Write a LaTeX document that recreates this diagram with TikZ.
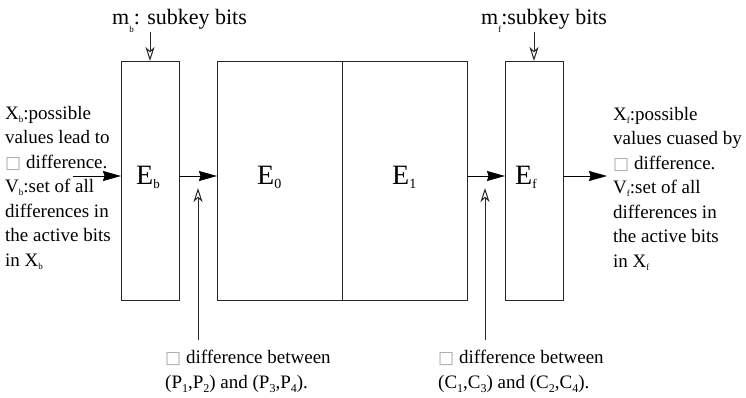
\documentclass[tikz,border=0pt]{standalone}
\usepackage{fontspec}
\setmainfont{Liberation Serif}
\newfontfamily\dejavu{DejaVu Sans}
\usetikzlibrary{arrows.meta}
\newcommand\lsub[3]{\raisebox{-#1}{\fontsize{#2}{#2}\selectfont #3}}
\newcommand\missing{{\dejavu\fontsize{17}{17}\selectfont\textcolor{black!35}{□}}}
\begin{document}
\begin{tikzpicture}[x=1pt,y=-1pt,
  blk/.style={draw=black!85,line width=0.9pt,inner sep=0pt,outer sep=0pt,minimum height=239pt},
  txt/.style={inner sep=0pt,align=left,anchor=north west,font=\fontsize{19}{24.5}\selectfont},
  toptxt/.style={inner sep=0pt,anchor=base west,font=\fontsize{22}{26}\selectfont},
  elabel/.style={inner sep=0pt,anchor=base west,font=\fontsize{28}{30}\selectfont},
  fa/.style={line width=0.9pt,-{Stealth[length=18pt,width=10pt,inset=1.5pt]}},
  ha/.style={line width=1pt,black!85,-{Stealth[open,length=14pt,width=9pt,inset=4pt]}}]
\useasboundingbox (0,0) rectangle (746,398);
% boxes
\node[blk,minimum width=58pt] (Eb) at (150,180.5) {};
\node[blk,minimum width=125pt] (E0) at (279.5,180.5) {};
\node[blk,minimum width=125pt] (E1) at (404.5,180.5) {};
\node[blk,minimum width=58pt] (Ef) at (534,180.5) {};
% labels in boxes
\node[elabel] (lb) at (136,185) {E\lsub{3pt}{13}{b}};
\node[elabel] (l0) at (257,185) {E\lsub{3pt}{14}{0}};
\node[elabel] (l1) at (392,185) {E\lsub{3pt}{14}{1}};
\node[elabel] (lf) at (515,185) {E\lsub{3pt}{13}{f}};
% top texts
\node[toptxt] (mb) at (112,25) {m\lsub{8pt}{9}{b}: subkey bits};
\node[toptxt] (mf) at (481,25) {m\lsub{8pt}{9}{f}:subkey bits};
% side texts
\node[txt] (xb) at (5,106) {X\lsub{3pt}{9}{b}:possible\\values lead to\\\missing\ difference.\\V\lsub{3pt}{9}{b}:set of all\\differences in\\the active bits\\in X\lsub{3pt}{9}{b}};
\node[txt] (xf) at (613,107) {X\lsub{3pt}{9}{f}:possible\\values cuased by\\\missing\ difference.\\V\lsub{3pt}{9}{f}:set of all\\differences in\\the active bits\\in X\lsub{3pt}{9}{f}};
% bottom texts
\node[txt] (pd) at (165,350) {\missing\ difference between\\(P\lsub{4pt}{12}{1},P\lsub{4pt}{12}{2}) and (P\lsub{4pt}{12}{3},P\lsub{4pt}{12}{4}).};
\node[txt] (cd) at (438,350) {\missing\ difference between\\(C\lsub{4pt}{12}{1},C\lsub{4pt}{12}{3}) and (C\lsub{4pt}{12}{2},C\lsub{4pt}{12}{4}).};
% coordinates
\coordinate (ly) at (0,176);
\coordinate (inL) at (73,176);
\coordinate (outR) at (607,176);
\coordinate (pb) at (198,340);
\coordinate (pt) at (198,188);
\coordinate (cb) at (485,340);
\coordinate (ct) at (485,188);
\coordinate (kt) at (0,32);
% connectors
\draw[fa] (inL) -- (Eb.west |- ly);
\draw[fa] (Eb.east |- ly) -- (E0.west |- ly);
\draw[fa] (E1.east |- ly) -- (Ef.west |- ly);
\draw[fa] (Ef.east |- ly) -- (outR);
\draw[ha] (pb) -- (pt);
\draw[ha] (cb) -- (ct);
\draw[ha] (Eb.north |- kt) -- (Eb.north);
\draw[ha] (Ef.north |- kt) -- (Ef.north);
\end{tikzpicture}
\end{document}
